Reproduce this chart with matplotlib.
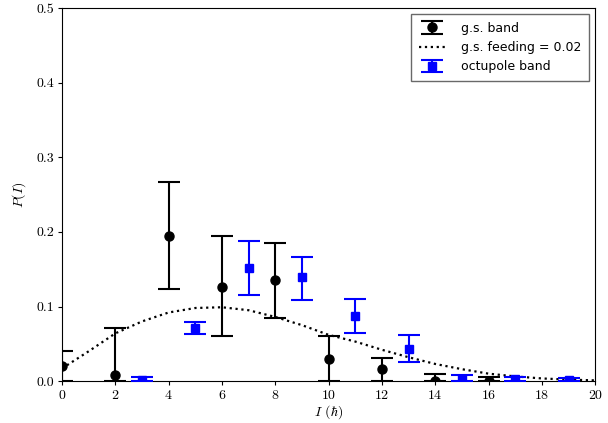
import numpy as np
import matplotlib
matplotlib.use("Agg")
import matplotlib.pyplot as plt

plt.rcParams['font.family'] = 'serif'
plt.rcParams['font.serif'] = ['cmr10']
plt.rcParams['mathtext.fontset'] = 'cm'
plt.rcParams['axes.formatter.use_mathtext'] = True

# g.s. band (even spins)
gs_spin = np.array([0, 2, 4, 6, 8, 10, 12, 14, 16])
gs_prob = np.array([0.020, 0.008, 0.195, 0.126, 0.135, 0.029, 0.016, 0.000, 0.000])
gs_err_lo = np.array([0.020, 0.008, 0.072, 0.066, 0.050, 0.029, 0.016, 0.000, 0.000])
gs_err_hi = np.array([0.020, 0.063, 0.072, 0.068, 0.050, 0.031, 0.015, 0.010, 0.005])

# octupole band (odd spins)
oct_spin = np.array([3, 5, 7, 9, 11, 13, 15, 17, 19])
oct_prob = np.array([0.002, 0.071, 0.152, 0.139, 0.087, 0.043, 0.003, 0.003, 0.002])
oct_err_lo = np.array([0.002, 0.008, 0.036, 0.030, 0.023, 0.018, 0.003, 0.003, 0.002])
oct_err_hi = np.array([0.003, 0.008, 0.036, 0.028, 0.023, 0.019, 0.005, 0.003, 0.002])

# feeding curve
feed_spin = np.arange(0, 21)
feed_prob = np.array([0.017, 0.040, 0.064, 0.080, 0.092, 0.098, 0.099, 0.095,
                      0.086, 0.075, 0.062, 0.053, 0.042, 0.032, 0.023, 0.016,
                      0.010, 0.0063, 0.0036, 0.002, 0.001])

fig = plt.figure(figsize=(6.08, 4.23), dpi=100)
ax = fig.add_axes([0.102, 0.099, 0.877, 0.882])

h_gs = ax.errorbar(gs_spin, gs_prob, yerr=[gs_err_lo, gs_err_hi], fmt='o', color='black',
                   markersize=6.5, capsize=8, elinewidth=1.5, capthick=1.5,
                   label='g.s. band', zorder=3)
h_feed, = ax.plot(feed_spin, feed_prob, ':', color='black', linewidth=1.6,
                  label='g.s. feeding = 0.02', zorder=2)
h_oct = ax.errorbar(oct_spin, oct_prob, yerr=[oct_err_lo, oct_err_hi], fmt='s', color='blue',
                    markersize=6, capsize=8, elinewidth=1.5, capthick=1.5,
                    label='octupole band', zorder=3)

ax.set_xlim(0, 20)
ax.set_ylim(0, 0.5)
ax.set_xticks(np.arange(0, 21, 2))
ax.set_yticks(np.arange(0, 0.51, 0.1))
ax.set_yticklabels(['0.0', '0.1', '0.2', '0.3', '0.4', '0.5'])
ax.tick_params(labelsize=10, length=3, pad=2.5)
ax.set_xlabel(r'$I$ ($\hbar$)', fontsize=10, labelpad=1)
ax.set_ylabel(r'$P(I)$', fontsize=10, labelpad=6)

ax.legend([h_gs, h_feed, h_oct], ['g.s. band', 'g.s. feeding = 0.02', 'octupole band'],
          loc='upper right', prop={'family': 'DejaVu Sans', 'size': 9},
          fancybox=False, edgecolor='#444444', borderpad=0.6,
          handlelength=2.2, handletextpad=1.2)

fig.savefig('out.png', dpi=100)
